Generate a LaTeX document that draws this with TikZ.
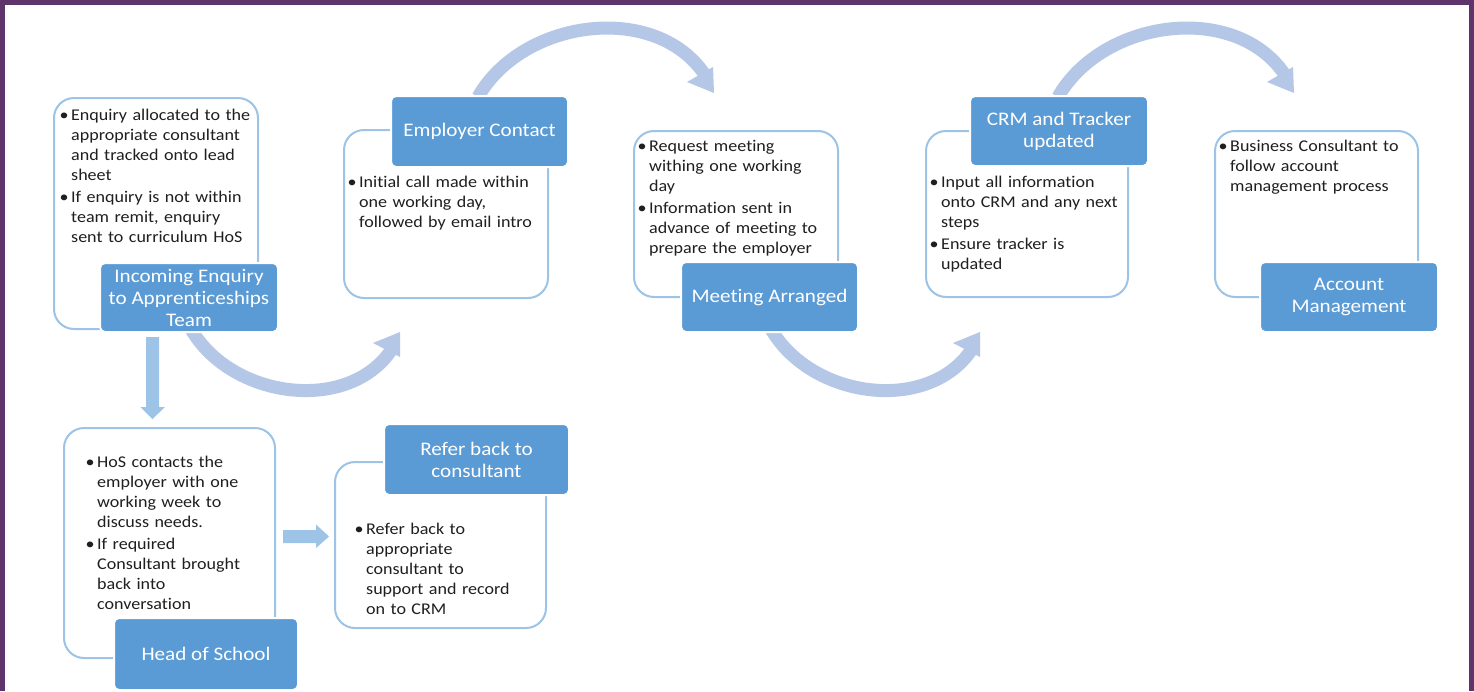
\documentclass[tikz,border=0pt]{standalone}
\usepackage{fontspec}
\setmainfont{Carlito}[FakeStretch=1.1, Ligatures=NoCommon]
\definecolor{framepurple}{RGB}{94,52,107}
\definecolor{boxline}{RGB}{157,195,230}
\definecolor{titleblue}{RGB}{91,155,213}
\definecolor{arrowblue}{RGB}{180,199,231}
\definecolor{straightblue}{RGB}{157,195,230}
\newcommand{\bul}{\leavevmode\llap{\textbullet\hspace{2.5pt}}}
\begin{document}
\begin{tikzpicture}[x=1pt,y=-1pt,
  detailbox/.style={draw=boxline, line width=2pt, rounded corners=20pt, fill=white,
    inner sep=0pt, anchor=north west},
  titlebox/.style={fill=titleblue, draw=white, line width=2pt, rounded corners=5pt,
    inner sep=0pt, anchor=north west, text=white, align=center,
    font=\fontsize{19.2}{22}\selectfont},
  bodytext/.style={anchor=base west, inner sep=0pt, align=left, text width=195pt,
    text=black!88, font=\fontsize{16.4}{20}\selectfont},
  curvearrow/.style={draw=arrowblue, line width=13pt},
  arrowhead/.style={fill=arrowblue},
  blockarrow/.style={fill=straightblue}]

% page frame
\path[use as bounding box] (0,0) rectangle (1474,691);
\fill[framepurple] (0,0) rectangle (1474,691);
\fill[white] (5,5) rectangle (1469,691);

% curved flow arrows: upper arcs
\coordinate (ua1s) at (478,97);
\coordinate (ua1e) at (705,75);
\draw[curvearrow] (ua1s) .. controls +(45,-78.6) and +(-49,-73.5) .. (ua1e);
\fill[arrowhead] (713,67) -- (714,93) -- (687,82) -- cycle;

\coordinate (ua2s) at (1058,97);
\coordinate (ua2e) at (1285,75);
\draw[curvearrow] (ua2s) .. controls +(45,-78.6) and +(-49,-73.5) .. (ua2e);
\fill[arrowhead] (1293,67) -- (1294,93) -- (1267,82) -- cycle;

% curved flow arrows: lower arcs
\coordinate (la1s) at (191,329);
\coordinate (la1e) at (392,349);
\draw[curvearrow] (la1s) .. controls +(40.5,70) and +(-43.25,65.25) .. (la1e);
\fill[arrowhead] (400,357) -- (400,332) -- (373,343) -- cycle;

\coordinate (la2s) at (771,329);
\coordinate (la2e) at (972,349);
\draw[curvearrow] (la2s) .. controls +(40.5,70) and +(-43.25,65.25) .. (la2e);
\fill[arrowhead] (980,357) -- (980,332) -- (953,343) -- cycle;

% straight block arrows
\fill[blockarrow] (146,337) -- (159,337) -- (159,407) -- (165,407) -- (152.5,419)
  -- (140.5,407) -- (146,407) -- cycle;
\fill[blockarrow] (283,530) -- (316,530) -- (316,524.5) -- (329,536.5) -- (316,548)
  -- (316,543) -- (283,543) -- cycle;

% detail boxes
\node[detailbox, minimum width=204pt, minimum height=231pt] (incbox) at (53,97) {};
\node[detailbox, minimum width=204pt, minimum height=168pt] (empbox) at (343,129) {};
\node[detailbox, minimum width=204pt, minimum height=166pt] (meetbox) at (633,130) {};
\node[detailbox, minimum width=202pt, minimum height=166pt] (crmbox) at (925,130) {};
\node[detailbox, minimum width=203pt, minimum height=166pt] (accbox) at (1214,130) {};
\node[detailbox, minimum width=211pt, minimum height=230pt] (hosbox) at (63,427) {};
\node[detailbox, minimum width=211pt, minimum height=166pt] (refbox) at (334,461) {};

% detail texts
\node[bodytext] (inctext) at (71,120) {\bul Enquiry allocated to the\\ appropriate consultant\\
  and tracked onto lead\\ sheet\\[2.5pt] \bul If enquiry is not within\\ team remit, enquiry\\
  sent to curriculum HoS};
\node[bodytext] (emptext) at (359,187) {\bul Initial call made within\\ one working day,\\
  followed by email intro};
\node[bodytext] (meettext) at (649,151) {\bul Request meeting\\ withing one working\\ day\\[2.5pt]
  \bul Information sent in\\ advance of meeting to\\ prepare the employer};
\node[bodytext] (crmtext) at (941,187) {\bul Input all information\\ onto CRM and any next\\
  steps\\[2.5pt] \bul Ensure tracker is\\ updated};
\node[bodytext] (acctext) at (1230,151) {\bul Business Consultant to\\ follow account\\
  management process};
\node[bodytext] (hostext) at (97,467) {\bul HoS contacts the\\ employer with one\\
  working week to\\ discuss needs.\\[2.5pt] \bul If required\\ Consultant brought\\
  back into\\ conversation};
\node[bodytext] (reftext) at (366,534) {\bul Refer back to\\ appropriate\\ consultant to\\
  support and record\\ on to CRM};

% step titles
\node[titlebox, minimum width=178pt, minimum height=69pt] (inc) at (99,262)
  {Incoming Enquiry\\ to Apprenticeships\\ Team};
\node[titlebox, minimum width=177pt, minimum height=71pt] (emp) at (390,95)
  {Employer Contact};
\node[titlebox, minimum width=177pt, minimum height=70pt] (meet) at (680,261)
  {Meeting Arranged};
\node[titlebox, minimum width=178pt, minimum height=70pt] (crm) at (969,95)
  {CRM and Tracker\\ updated};
\node[titlebox, minimum width=178pt, minimum height=70pt] (acc) at (1259,261)
  {Account\\ Management};
\node[titlebox, minimum width=185pt, minimum height=71pt] (ref) at (383,423)
  {Refer back to\\ consultant};
\node[titlebox, minimum width=184pt, minimum height=72pt] (hos) at (113,617)
  {Head of School};
\end{tikzpicture}
\end{document}
